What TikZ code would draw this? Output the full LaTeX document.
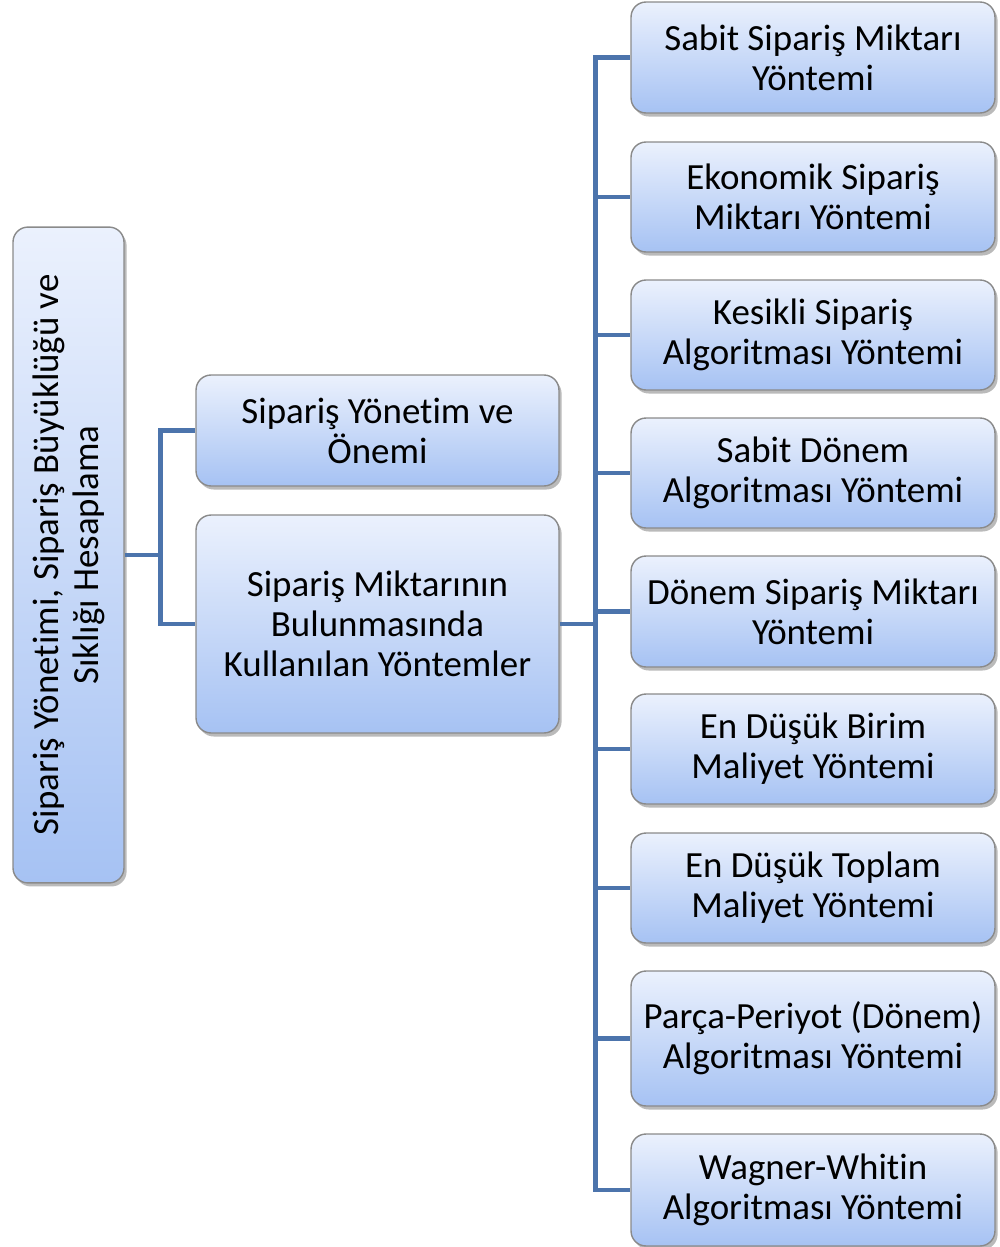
\documentclass[tikz,border=0pt]{standalone}
\usepackage{fontspec}
\setmainfont{Carlito}[Ligatures=NoCommon]
\usepackage{tikz}
\usetikzlibrary{positioning,shadows,calc}
\definecolor{boxtop}{HTML}{EBF1FD}
\definecolor{boxbot}{HTML}{A6C2F3}
\definecolor{boxline}{HTML}{8A8A8A}
\definecolor{connblue}{HTML}{4C74AC}
\begin{document}
\begin{tikzpicture}[x=0.02cm, y=-0.02cm,
  every node/.style={font=\fontsize{21}{22.8}\selectfont},
  box/.style={draw=boxline, line width=0.8pt, rounded corners=0.3cm, top color=boxtop, bottom color=boxbot,
    align=center, inner sep=1pt, drop shadow={shadow xshift=1.5pt, shadow yshift=-2pt, opacity=0.45, fill=black!60}},
  conn/.style={draw=connblue, line width=2.6pt}]
\useasboundingbox (0,0) rectangle (1000,1247);
% left and middle
\node[box, rotate=90, minimum width=13.12cm, minimum height=2.22cm] (root) at (68.5,555) {Sipariş Yönetimi, Sipariş Büyüklüğü ve\\Sıklığı Hesaplama};
\node[box, minimum width=7.26cm, minimum height=2.22cm] (m1) at (377.5,430.5) {Sipariş Yönetim ve\\Önemi};
\node[box, minimum width=7.26cm, minimum height=4.36cm] (m2) at (377.5,624) {Sipariş Miktarının\\Bulunmasında\\Kullanılan Yöntemler};
% right column
\foreach \i/\y/\h/\txt in {1/57.5/2.22/{Sabit Sipariş Miktarı\\Yöntemi},
  2/197/2.2/{Ekonomik Sipariş\\Miktarı Yöntemi},
  3/335/2.2/{Kesikli Sipariş\\Algoritması Yöntemi},
  4/473/2.2/{Sabit Dönem\\Algoritması Yöntemi},
  5/611.5/2.22/{Dönem Sipariş Miktarı\\Yöntemi},
  6/749/2.2/{En Düşük Birim\\Maliyet Yöntemi},
  7/888/2.2/{En Düşük Toplam\\Maliyet Yöntemi},
  8/1038.5/2.7/{Parça-Periyot (Dönem)\\Algoritması Yöntemi},
  9/1190/2.24/{Wagner-Whitin\\Algoritması Yöntemi}}
  \node[box, minimum width=7.28cm, minimum height=\h cm] (r\i) at (813,\y) {\txt};
% connectors
\draw[conn] (root.south) -- ++(36,0) coordinate (j1);
\draw[conn] (j1) |- (m1.west);
\draw[conn] (j1) |- (m2.west);
\draw[conn] (m2.east) -- ++(36,0) coordinate (j2);
\foreach \i in {1,...,9} \draw[conn] (j2) |- (r\i.west);
\end{tikzpicture}
\end{document}
